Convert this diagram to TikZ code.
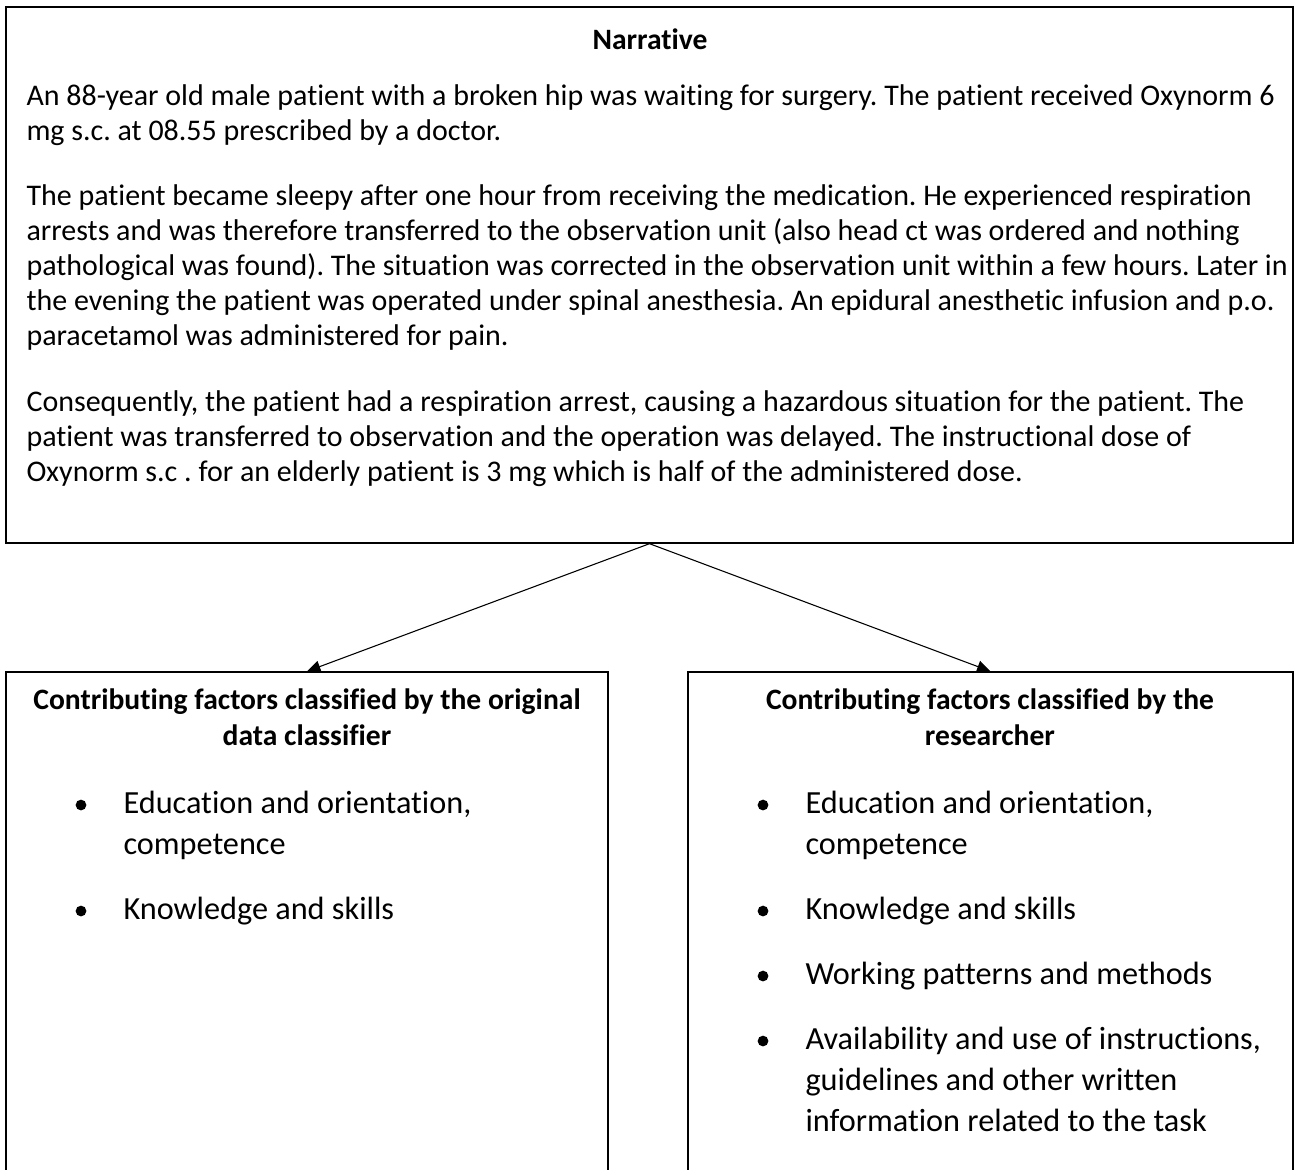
\documentclass[tikz,border=0pt]{standalone}
\usepackage{fontspec}
\setmainfont{Carlito}[Ligatures=NoCommon]
\frenchspacing
\usetikzlibrary{arrows.meta,fit}

\tikzset{
  framebox/.style={draw, line width=0.5pt, inner sep=0pt},
  bodytext/.style={anchor=base west, align=left, inner sep=0pt, font=\fontsize{11.15}{13}\selectfont},
  headtext/.style={anchor=base, align=center, inner sep=0pt, font=\fontsize{11}{13.4}\selectfont\bfseries},
  itemtext/.style={anchor=base west, align=left, inner sep=0pt, font=\fontsize{12}{15.25}\selectfont},
  bulletdot/.style={circle, fill, inner sep=0pt, minimum size=4pt},
  link/.style={-{Triangle[length=5pt,width=4.5pt]}, line width=0.4pt}
}

\begin{document}
\begin{tikzpicture}[x=0.372pt,y=-0.372pt]
\useasboundingbox (0,0) rectangle (1294,1169);

% Narrative box (multi-line nodes sit on their last baseline)
\coordinate (nw) at (6,7);
\coordinate (se) at (1293,543);
\node (narrative) [framebox, fit=(nw)(se)] {};
\node (title) [headtext] at (650,49) {Narrative};
\node (para1) [bodytext] at (26,140) {An 88-year old male patient with a broken hip was waiting for surgery. The patient received Oxynorm 6\\mg s.c. at 08.55 prescribed by a doctor.};
\node (para2) [bodytext] at (26,345) {The patient became sleepy after one hour from receiving the medication. He experienced respiration\\arrests and was therefore transferred to the observation unit (also head ct was ordered and nothing\\pathological was found). The situation was corrected in the observation unit within a few hours. Later in\\the evening the patient was operated under spinal anesthesia. An epidural anesthetic infusion and p.o.\\paracetamol was administered for pain.};
\node (para3) [bodytext] at (26,481) {Consequently, the patient had a respiration arrest, causing a hazardous situation for the patient. The\\patient was transferred to observation and the operation was delayed. The instructional dose of\\Oxynorm s.c . for an elderly patient is 3 mg which is half of the administered dose.};

% Left box: original classifier
\coordinate (lnw) at (6,672);
\coordinate (lse) at (608,1200);
\node (leftbox) [framebox, fit=(lnw)(lse)] {};
\node (lhead) [headtext] at (307,745) {Contributing factors classified by the original\\data classifier};
\node (ldot1) [bulletdot] at (81,805) {};
\node (litem1) [itemtext] at (123,854) {Education and orientation,\\competence};
\node (ldot2) [bulletdot] at (81,911) {};
\node (litem2) [itemtext] at (123,919) {Knowledge and skills};

% Right box: researcher
\coordinate (rnw) at (688,672);
\coordinate (rse) at (1293,1200);
\node (rightbox) [framebox, fit=(rnw)(rse)] {};
\node (rhead) [headtext] at (990,745) {Contributing factors classified by the\\researcher};
\node (rdot1) [bulletdot] at (763,805) {};
\node (ritem1) [itemtext] at (805,854) {Education and orientation,\\competence};
\node (rdot2) [bulletdot] at (763,911) {};
\node (ritem2) [itemtext] at (805,919) {Knowledge and skills};
\node (rdot3) [bulletdot] at (763,976) {};
\node (ritem3) [itemtext] at (805,984) {Working patterns and methods};
\node (rdot4) [bulletdot] at (763,1041) {};
\node (ritem4) [itemtext] at (805,1131) {Availability and use of instructions,\\guidelines and other written\\information related to the task};

% Arrows
\draw[link] (narrative.south) -- (leftbox.north);
\draw[link] (narrative.south) -- (rightbox.north);
\end{tikzpicture}
\end{document}
